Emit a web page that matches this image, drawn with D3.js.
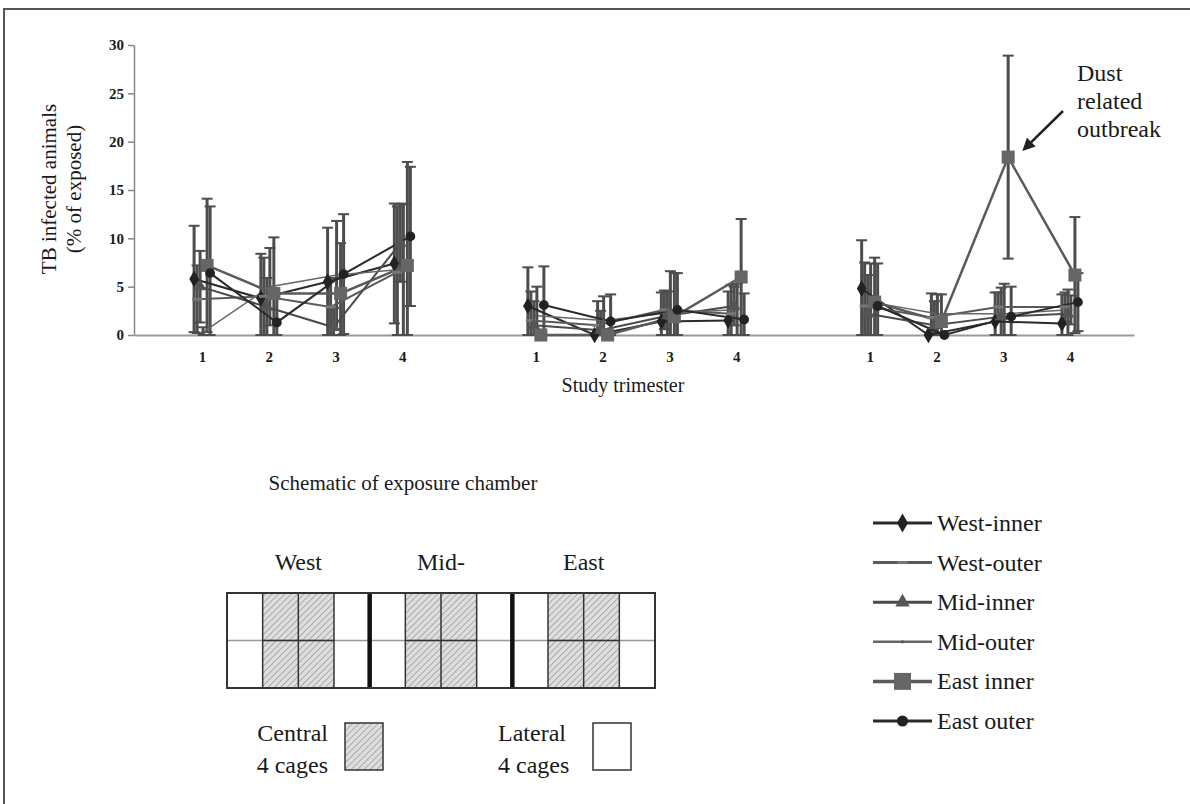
<!DOCTYPE html>
<html>
<head>
<meta charset="utf-8">
<script src="https://cdn.jsdelivr.net/npm/d3@7"></script>
<style>
  body { margin: 0; background: #fff; }
  svg { display: block; }
  text { font-family: "Liberation Serif", "Times New Roman", serif; fill: #1a1a1a; }
</style>
</head>
<body>
<div id="chart"></div>
<script>
// trimester labels, repeated for the three study periods
const trimesters = ["1", "2", "3", "4"];
const periods = [0, 1, 2];

const seriesNames = ["West-inner", "West-outer", "Mid-inner", "Mid-outer", "East inner", "East outer"];

// % infected, 12 points = 3 periods x 4 trimesters
const westInner = [5.8, 3.8, 5.5, 7.4, 3.0, 0.0, 1.4, 1.5, 4.8, 0.0, 1.4, 1.2];
const westOuter = [3.7, 4.0, 2.9, 6.5, 1.5, 1.0, 2.6, 2.2, 3.0, 1.8, 2.9, 2.9];
const midInner  = [5.0, 2.9, 0.8, 9.5, 1.0, 0.5, 2.0, 3.0, 2.2, 1.0, 1.9, 2.2];
const midOuter  = [0.3, 5.0, 6.2, 6.8, 2.0, 1.5, 2.3, 2.6, 3.4, 2.2, 2.2, 2.6];
const eastInner = [7.2, 4.3, 4.3, 7.2, 0.0, 0.0, 1.9, 6.0, 3.4, 1.4, 18.4, 6.2];
const eastOuter = [6.4, 1.3, 6.3, 10.2, 3.1, 1.4, 2.6, 1.6, 3.0, 0.0, 1.9, 3.4];

// error bar sizes (+/-)
const westInnerErr = [5.5, 4.6, 5.6, 6.2, 4.0, 0.0, 3.0, 3.0, 5.0, 0.0, 3.0, 3.0];
const westOuterErr = [3.5, 4.0, 3.0, 6.8, 3.0, 2.5, 2.0, 3.0, 4.5, 2.5, 1.5, 1.5];
const midInnerErr  = [3.7, 3.0, 2.0, 4.0, 2.5, 2.0, 2.5, 2.0, 4.0, 2.5, 3.0, 2.5];
const midOuterErr  = [0.5, 4.0, 5.6, 6.8, 3.0, 2.5, 4.3, 2.7, 4.0, 2.0, 3.1, 1.5];
const eastInnerErr = [6.9, 5.8, 5.2, 10.7, 0.0, 0.0, 4.5, 6.0, 4.6, 2.8, 10.5, 6.0];
const eastOuterErr = [6.9, 3.0, 6.2, 7.2, 4.0, 2.8, 3.8, 2.7, 4.4, 0.0, 3.1, 3.0];

const yTicks = [0, 5, 10, 15, 20, 25, 30];

// schematic
const sections = ["West", "Mid-", "East"];
const cageRow = ["lateral", "central", "central", "lateral"];

const values = [westInner, westOuter, midInner, midOuter, eastInner, eastOuter];
const errors = [westInnerErr, westOuterErr, midInnerErr, midOuterErr, eastInnerErr, eastOuterErr];

// look of each series
const styles = [
    {dx: -8, line: "#2a2a2a", lw: 2,   marker: "diamond"},
    {dx: -5, line: "#5a5a5a", lw: 2,   marker: "dash"},
    {dx: -2, line: "#4a4a4a", lw: 2,   marker: "triangle"},
    {dx: 1,  line: "#666",    lw: 1.5, marker: "dot"},
    {dx: 5,  line: "#5a5a5a", lw: 2.5, marker: "square"},
    {dx: 8,  line: "#2a2a2a", lw: 2,   marker: "circle"}
];

const width = 1190;
const height = 804;

const svg = d3.select("#chart").append("svg")
    .attr("width", width)
    .attr("height", height);

const defs = svg.append("defs");
const hatch = defs.append("pattern")
    .attr("id", "hatch")
    .attr("patternUnits", "userSpaceOnUse")
    .attr("width", 4.5).attr("height", 4.5)
    .attr("patternTransform", "rotate(45)");
hatch.append("rect").attr("width", 4.5).attr("height", 4.5).attr("fill", "#dedede");
hatch.append("line").attr("x1", 0).attr("y1", 0).attr("x2", 0).attr("y2", 4.5)
    .attr("stroke", "#8a8a8a").attr("stroke-width", 1.2);

defs.append("marker")
    .attr("id", "arrow")
    .attr("viewBox", "0 0 10 10")
    .attr("refX", 8).attr("refY", 5)
    .attr("markerWidth", 5).attr("markerHeight", 5)
    .attr("orient", "auto")
    .append("path").attr("d", "M0,0L10,5L0,10z").attr("fill", "#222");

// frame
svg.append("rect")
    .attr("x", 4).attr("y", 9)
    .attr("width", 1300).attr("height", 900)
    .attr("fill", "none").attr("stroke", "#555").attr("stroke-width", 2);

// scales: slot = period*5 + trimester index
const x = d3.scaleLinear().domain([-1.02, 13.96]).range([134, 1134]);
const y = d3.scaleLinear().domain([0, 30]).range([335, 45]);
const slot = i => Math.floor(i / 4) * 5 + (i % 4);

// y axis
const yAxis = svg.append("g")
    .attr("transform", "translate(134,0)")
    .call(d3.axisLeft(y).tickValues(yTicks).tickSize(6).tickPadding(4).tickSizeOuter(0));
yAxis.select(".domain").attr("stroke", "#888").attr("stroke-width", 1.5);
yAxis.selectAll(".tick line").attr("stroke", "#888").attr("stroke-width", 1.5);
yAxis.selectAll(".tick text")
    .attr("font-family", "Liberation Serif, serif")
    .attr("font-size", 15).attr("font-weight", "bold").attr("fill", "#333");

// x axis
const slotTicks = d3.range(12).map(slot);
const xAxis = svg.append("g")
    .attr("transform", `translate(0,${y(0)})`)
    .call(d3.axisBottom(x).tickValues(slotTicks)
        .tickFormat((d, i) => trimesters[i % 4]).tickSize(0).tickPadding(16));
xAxis.select(".domain").attr("stroke", "#9a9a9a").attr("stroke-width", 2);
xAxis.selectAll(".tick text")
    .attr("font-family", "Liberation Serif, serif")
    .attr("font-size", 15).attr("font-weight", "bold").attr("fill", "#333");

// axis titles
svg.append("text")
    .attr("transform", "translate(56,189) rotate(-90)")
    .attr("text-anchor", "middle").attr("font-size", 21)
    .text("TB infected animals");
svg.append("text")
    .attr("transform", "translate(81,189) rotate(-90)")
    .attr("text-anchor", "middle").attr("font-size", 21)
    .text("(% of exposed)");
svg.append("text")
    .attr("x", 623).attr("y", 392)
    .attr("text-anchor", "middle").attr("font-size", 20)
    .text("Study trimester");

// error bars
const plot = svg.append("g");
values.forEach((vals, s) => {
    const st = styles[s];
    const g = plot.append("g");
    vals.forEach((v, i) => {
        const e = errors[s][i];
        if (e <= 0) return;
        const cx = x(slot(i)) + st.dx;
        const top = y(v + e), bot = y(Math.max(0, v - e));
        g.append("line").attr("x1", cx).attr("x2", cx).attr("y1", top).attr("y2", bot)
            .attr("stroke", "#4d4d4d").attr("stroke-width", 3);
        [top, bot].forEach(yy => g.append("line")
            .attr("x1", cx - 5.5).attr("x2", cx + 5.5).attr("y1", yy).attr("y2", yy)
            .attr("stroke", "#4d4d4d").attr("stroke-width", 2));
    });
});

// lines, broken between periods
const line = d3.line().x(d => d.x).y(d => d.y);
values.forEach((vals, s) => {
    const st = styles[s];
    periods.forEach(p => {
        const pts = trimesters.map((t, k) => {
            const i = p * 4 + k;
            return {x: x(slot(i)) + st.dx, y: y(vals[i])};
        });
        plot.append("path").datum(pts)
            .attr("d", line).attr("fill", "none")
            .attr("stroke", st.line).attr("stroke-width", st.lw);
    });
});

function drawMarker(g, type, cx, cy, big) {
    const k = big ? 1.3 : 1;
    if (type === "diamond") {
        g.append("path").attr("transform", `translate(${cx},${cy})`)
            .attr("d", d3.symbol(d3.symbolDiamond, 80 * k)()).attr("fill", "#222");
    } else if (type === "dash") {
        g.append("rect").attr("x", cx - 5).attr("y", cy - 1.5).attr("width", 10).attr("height", 3)
            .attr("fill", "#777");
    } else if (type === "triangle") {
        g.append("path").attr("transform", `translate(${cx},${cy})`)
            .attr("d", d3.symbol(d3.symbolTriangle, 70 * k)()).attr("fill", "#555");
    } else if (type === "dot") {
        g.append("circle").attr("cx", cx).attr("cy", cy).attr("r", 1.6).attr("fill", "#555");
    } else if (type === "square") {
        g.append("path").attr("transform", `translate(${cx},${cy})`)
            .attr("d", d3.symbol(d3.symbolSquare, 170 * k * k)()).attr("fill", "#666");
    } else if (type === "circle") {
        g.append("path").attr("transform", `translate(${cx},${cy})`)
            .attr("d", d3.symbol(d3.symbolCircle, 75 * k)()).attr("fill", "#222");
    }
}

values.forEach((vals, s) => {
    const st = styles[s];
    const g = plot.append("g");
    vals.forEach((v, i) => drawMarker(g, st.marker, x(slot(i)) + st.dx, y(v), false));
});

// annotation
const peak = 10; // index of East inner, period 3 trimester 3
svg.append("line")
    .attr("x1", 1063).attr("y1", 111)
    .attr("x2", x(slot(peak)) + styles[4].dx + 16).attr("y2", y(eastInner[peak]) - 8)
    .attr("stroke", "#222").attr("stroke-width", 2.5)
    .attr("marker-end", "url(#arrow)");
const note = svg.append("text").attr("font-size", 24);
["Dust", "related", "outbreak"].forEach((t, i) =>
    note.append("tspan").attr("x", 1077).attr("y", 81 + i * 28).text(t));

// legend
const legend = svg.append("g").attr("transform", "translate(873,523)");
seriesNames.forEach((name, s) => {
    const st = styles[s];
    const g = legend.append("g").attr("transform", `translate(0,${s * 39.6})`);
    g.append("line").attr("x1", 0).attr("x2", 59).attr("y1", 0).attr("y2", 0)
        .attr("stroke", st.line).attr("stroke-width", st.lw + 1);
    drawMarker(g, st.marker, 29.5, 0, true);
    g.append("text").attr("x", 64).attr("y", 8).attr("font-size", 24).text(name);
});

// schematic of chamber
svg.append("text")
    .attr("x", 403).attr("y", 490)
    .attr("text-anchor", "middle").attr("font-size", 21)
    .text("Schematic of exposure chamber");

const cx0 = 227, cx1 = 655, cy0 = 593, cy1 = 688;
const cells = sections.flatMap(() => cageRow);
const cx = d3.scaleLinear().domain([0, cells.length]).range([cx0, cx1]);
const ch = svg.append("g");

sections.forEach((name, k) => {
    ch.append("text")
        .attr("x", cx(k * 4 + 2)).attr("y", 570)
        .attr("text-anchor", "middle").attr("font-size", 24)
        .text(name);
});

[0, 1].forEach(r => {
    cells.forEach((type, i) => {
        ch.append("rect")
            .attr("x", cx(i)).attr("y", r === 0 ? cy0 : (cy0 + cy1) / 2)
            .attr("width", cx(i + 1) - cx(i)).attr("height", (cy1 - cy0) / 2)
            .attr("fill", type === "central" ? "url(#hatch)" : "#fff");
    });
});
ch.append("line")
    .attr("x1", cx0).attr("x2", cx1).attr("y1", (cy0 + cy1) / 2).attr("y2", (cy0 + cy1) / 2)
    .attr("stroke", "#999").attr("stroke-width", 1.5);
d3.range(1, cells.length).forEach(i => {
    const thick = i % 4 === 0;
    ch.append("line")
        .attr("x1", cx(i)).attr("x2", cx(i)).attr("y1", cy0).attr("y2", cy1)
        .attr("stroke", thick ? "#111" : "#333").attr("stroke-width", thick ? 4.5 : 1.5);
});
// dark middle line under the hatched cages
cells.forEach((type, i) => {
    if (type !== "central") return;
    ch.append("line")
        .attr("x1", cx(i)).attr("x2", cx(i + 1)).attr("y1", (cy0 + cy1) / 2).attr("y2", (cy0 + cy1) / 2)
        .attr("stroke", "#333").attr("stroke-width", 1.5);
});
ch.append("rect")
    .attr("x", cx0).attr("y", cy0).attr("width", cx1 - cx0).attr("height", cy1 - cy0)
    .attr("fill", "none").attr("stroke", "#333").attr("stroke-width", 2);

// cage key
const key = svg.append("g");
const central = key.append("text").attr("font-size", 24).attr("text-anchor", "end");
["Central", "4 cages"].forEach((t, i) => central.append("tspan").attr("x", 328).attr("y", 741 + i * 32).text(t));
key.append("rect").attr("x", 345).attr("y", 723).attr("width", 38).attr("height", 47)
    .attr("fill", "url(#hatch)").attr("stroke", "#333").attr("stroke-width", 1.5);
const lateral = key.append("text").attr("font-size", 24);
["Lateral", "4 cages"].forEach((t, i) => lateral.append("tspan").attr("x", 498).attr("y", 741 + i * 32).text(t));
key.append("rect").attr("x", 593).attr("y", 723).attr("width", 38).attr("height", 47)
    .attr("fill", "#fff").attr("stroke", "#333").attr("stroke-width", 1.5);
</script>
</body>
</html>
